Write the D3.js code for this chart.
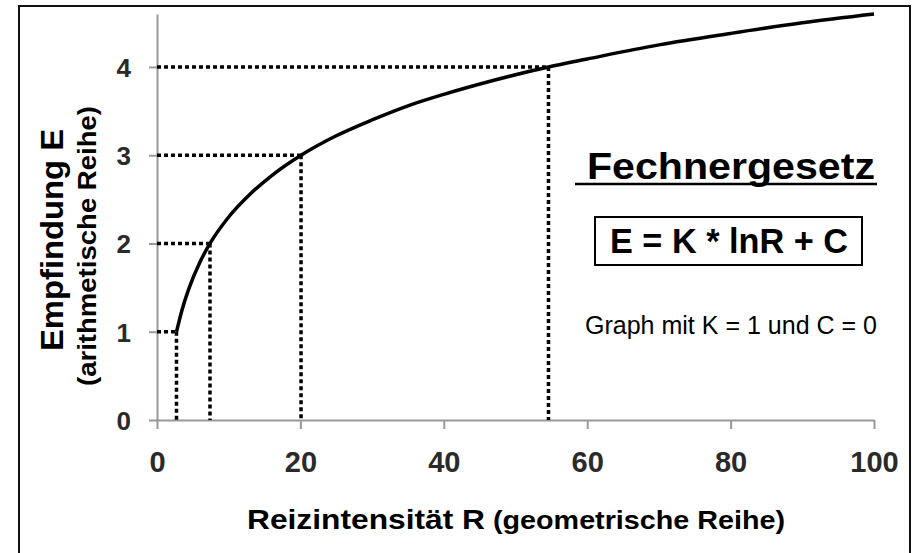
<!DOCTYPE html>
<html lang="de">
<head>
<meta charset="utf-8">
<title>Fechnergesetz</title>
<script src="https://d3js.org/d3.v7.min.js"></script>
<style>
    body { margin: 0; background: white; }
    svg text { font-family: "Liberation Sans", Arial, sans-serif; }
    .axis path, .axis line { fill: none; stroke: #999; stroke-width: 2; }
    .axis text { font-weight: bold; fill: #2a2a2a; }
    .dots { fill: none; stroke: black; stroke-width: 3.5; stroke-dasharray: 4,3; }
    .curve { fill: none; stroke: black; stroke-width: 3.5; }
</style>
</head>
<body>
<div id="chart"></div>
<script type="text/javascript">
    // curve (R, E)
    var reiz = [2.72, 3.5, 4.5, 6, 7.39, 10, 13, 16, 20.09, 25, 30, 35, 40, 47, 54.6, 60, 70, 80, 90, 100];
    var empf = [1, 1.25, 1.5, 1.79, 2, 2.3, 2.56, 2.77, 3, 3.22, 3.4, 3.56, 3.69, 3.85, 4, 4.09, 4.25, 4.38, 4.5, 4.6];
    // the helper lines: E = 1..4 and the matching R
    var stufenE = [1, 2, 3, 4];
    var stufenR = [2.72, 7.39, 20.09, 54.6];
    var xTicks = [0, 20, 40, 60, 80, 100];
    var yTicks = [0, 1, 2, 3, 4];

    var w = 915, h = 553;
    var svg = d3.select("#chart").append("svg").attr("width", w).attr("height", h);

    // outer frame
    svg.append("rect").attr("x", 19).attr("y", 6).attr("width", 891).attr("height", 560)
        .attr("fill", "none").attr("stroke", "#111").attr("stroke-width", 2);

    var xScale = d3.scaleLinear().domain([0, 100]).range([157, 874]);
    var yScale = d3.scaleLinear().domain([0, 4.6]).range([420, 14]);

    // axes
    var xAxis = d3.axisBottom(xScale).tickValues(xTicks).tickSizeInner(9).tickSizeOuter(0).tickPadding(22);
    var yAxis = d3.axisLeft(yScale).tickValues(yTicks).tickFormat(d3.format("d")).tickSizeInner(8).tickSizeOuter(0).tickPadding(18);
    svg.append("g").attr("class", "axis").attr("transform", "translate(0," + yScale(0) + ")").call(xAxis)
        .selectAll("text").style("font-size", "29px");
    svg.append("g").attr("class", "axis").attr("transform", "translate(" + xScale(0) + ",0)").call(yAxis)
        .selectAll("text").style("font-size", "26px").attr("dy", "0.36em");

    // dotted helper lines
    stufenE.forEach(function(e, i) {
        var r = stufenR[i];
        svg.append("line").attr("class", "dots")
            .attr("x1", xScale(0)).attr("y1", yScale(e)).attr("x2", xScale(r)).attr("y2", yScale(e));
        svg.append("line").attr("class", "dots")
            .attr("x1", xScale(r)).attr("y1", yScale(e)).attr("x2", xScale(r)).attr("y2", yScale(0));
    });

    // curve
    var pts = reiz.map(function(r, i) { return [r, empf[i]]; });
    var line = d3.line().x(function(d) { return xScale(d[0]); }).y(function(d) { return yScale(d[1]); })
        .curve(d3.curveMonotoneX);
    svg.append("path").attr("class", "curve").attr("d", line(pts));

    // axis titles
    svg.append("text").attr("transform", "translate(63,240) rotate(-90)").attr("text-anchor", "middle")
        .style("font-size", "32px").style("font-weight", "bold").attr("textLength", 222).attr("lengthAdjust", "spacingAndGlyphs")
        .text("Empfindung E");
    svg.append("text").attr("transform", "translate(96,246) rotate(-90)").attr("text-anchor", "middle")
        .style("font-size", "25px").style("font-weight", "bold").attr("textLength", 280).attr("lengthAdjust", "spacingAndGlyphs")
        .text("(arithmetische Reihe)");
    svg.append("text").attr("x", 247).attr("y", 529)
        .style("font-size", "28px").style("font-weight", "bold").attr("textLength", 238).attr("lengthAdjust", "spacingAndGlyphs")
        .text("Reizintensität R");
    svg.append("text").attr("x", 493).attr("y", 529)
        .style("font-size", "26px").style("font-weight", "bold").attr("textLength", 292).attr("lengthAdjust", "spacingAndGlyphs")
        .text("(geometrische Reihe)");

    // title, formula and note
    svg.append("text").attr("x", 587).attr("y", 179)
        .style("font-size", "36px").style("font-weight", "bold").attr("textLength", 288).attr("lengthAdjust", "spacingAndGlyphs")
        .text("Fechnergesetz");
    svg.append("line").attr("x1", 575).attr("x2", 877).attr("y1", 184).attr("y2", 184)
        .attr("stroke", "black").attr("stroke-width", 2.5);
    svg.append("rect").attr("x", 595).attr("y", 217).attr("width", 267).attr("height", 48)
        .attr("fill", "none").attr("stroke", "black").attr("stroke-width", 2);
    svg.append("text").attr("x", 610).attr("y", 253)
        .style("font-size", "35px").style("font-weight", "bold").attr("textLength", 238).attr("lengthAdjust", "spacingAndGlyphs")
        .text("E = K * lnR + C");
    svg.append("text").attr("x", 585).attr("y", 334)
        .style("font-size", "25px").attr("textLength", 292).attr("lengthAdjust", "spacingAndGlyphs")
        .text("Graph mit K = 1 und C = 0");
</script>
</body>
</html>
